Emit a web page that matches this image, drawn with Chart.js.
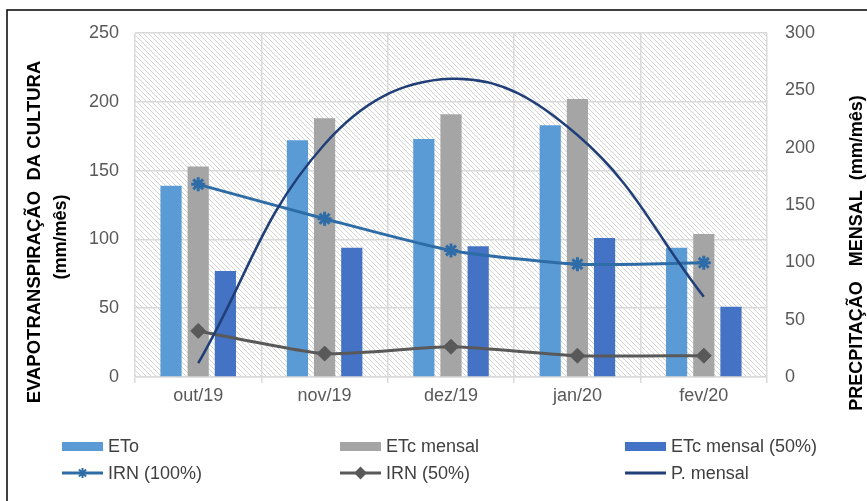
<!DOCTYPE html>
<html>
<head>
<meta charset="utf-8">
<script src="https://cdn.jsdelivr.net/npm/chart.js@4.4.0/dist/chart.umd.min.js"></script>
<style>
  html, body { margin: 0; padding: 0; background: #fff; }
  #wrap { position: relative; width: 867px; height: 501px; }
</style>
</head>
<body>
<div id="wrap"><canvas id="myChart" width="867" height="501"></canvas></div>
<script>
// chart data
const months = ["out/19", "nov/19", "dez/19", "jan/20", "fev/20"];
const eto = [139, 172, 173, 183, 94];
const etcMensal = [153, 188, 191, 202, 104];
const etc50 = [77, 94, 95, 101, 51];
const irn100 = [140, 115, 92, 82, 83];
const irn50 = [33.5, 17, 22, 15.5, 15.5];
const precip = [12, 203, 260, 211, 70];
const leftTicks = [0, 50, 100, 150, 200, 250];
const rightTicks = [0, 50, 100, 150, 200, 250, 300];

const FONT = "'Liberation Sans', Arial, sans-serif";
const GRID = "#D9D9D9";
const TICK_COLOR = "#595959";

const colors = {
    eto: "#5B9BD5",
    etc: "#A5A5A5",
    etc50: "#4472C4",
    irn100: "#2E6CA8",
    irn50: "#595959",
    precip: "#203F78"
};

// hatched plot background + outer frame
const backgroundPlugin = {
    id: "hatch",
    beforeDraw(chart) {
        const { ctx, chartArea } = chart;
        const tile = document.createElement("canvas");
        tile.width = 5;
        tile.height = 5;
        const t = tile.getContext("2d");
        t.fillStyle = "#fff";
        t.fillRect(0, 0, 5, 5);
        t.strokeStyle = "#D4D4D4";
        t.lineWidth = 1;
        t.beginPath();
        t.moveTo(-1, -1); t.lineTo(6, 6);
        t.moveTo(-1, 4); t.lineTo(1, 6);
        t.moveTo(4, -1); t.lineTo(6, 1);
        t.stroke();
        ctx.save();
        ctx.fillStyle = "#fff";
        ctx.fillRect(0, 0, chart.width, chart.height);
        ctx.fillStyle = ctx.createPattern(tile, "repeat");
        ctx.fillRect(chartArea.left, chartArea.top, chartArea.right - chartArea.left, chartArea.bottom - chartArea.top);
        ctx.restore();
    },
    afterDraw(chart) {
        const ctx = chart.ctx;
        ctx.save();
        ctx.strokeStyle = "#000";
        ctx.lineWidth = 1.5;
        ctx.strokeRect(7, 10, 900, 600);
        ctx.restore();
    }
};

// axis titles
const titlesPlugin = {
    id: "axisTitles",
    afterDraw(chart) {
        const ctx = chart.ctx;
        ctx.save();
        ctx.fillStyle = "#000";
        ctx.textAlign = "center";
        ctx.textBaseline = "middle";

        ctx.font = "bold 18.5px " + FONT;
        ctx.save();
        ctx.translate(35, 232);
        ctx.rotate(-Math.PI / 2);
        ctx.fillText("EVAPOTRANSPIRAÇÃO  DA CULTURA", 0, 0);
        ctx.restore();

        ctx.font = "bold 18px " + FONT;
        ctx.save();
        ctx.translate(61, 237);
        ctx.rotate(-Math.PI / 2);
        ctx.fillText("(mm/mês)", 0, 0);
        ctx.restore();

        ctx.save();
        ctx.translate(857, 253);
        ctx.rotate(-Math.PI / 2);
        ctx.fillText("PRECPITAÇÃO   MENSAL  (mm/mês)", 0, 0);
        ctx.restore();

        ctx.restore();
    }
};

// legend in three columns
const legendItems = [
    { label: "ETo", kind: "box", color: colors.eto },
    { label: "ETc mensal", kind: "box", color: colors.etc },
    { label: "ETc mensal (50%)", kind: "box", color: colors.etc50 },
    { label: "IRN (100%)", kind: "line", color: colors.irn100, marker: "star" },
    { label: "IRN (50%)", kind: "line", color: colors.irn50, marker: "rectRot" },
    { label: "P. mensal", kind: "line", color: colors.precip }
];

const legendPlugin = {
    id: "gridLegend",
    afterDraw(chart) {
        const ctx = chart.ctx;
        const colX = [62, 340, 625];
        const rowY = [446, 473];
        ctx.save();
        ctx.font = "18px " + FONT;
        ctx.textBaseline = "middle";
        ctx.textAlign = "left";
        legendItems.forEach((item, i) => {
            const x = colX[i % 3];
            const y = rowY[Math.floor(i / 3)];
            if (item.kind === "box") {
                ctx.fillStyle = item.color;
                ctx.fillRect(x, y - 4, 41, 9);
            } else {
                ctx.strokeStyle = item.color;
                ctx.lineWidth = 3;
                ctx.beginPath();
                ctx.moveTo(x, y);
                ctx.lineTo(x + 41, y);
                ctx.stroke();
                if (item.marker) {
                    ctx.fillStyle = item.color;
                    ctx.strokeStyle = item.color;
                    ctx.lineWidth = 2;
                    Chart.helpers.drawPoint(ctx, { pointStyle: item.marker, radius: 5, borderWidth: 2 }, x + 20.5, y);
                }
            }
            ctx.fillStyle = "#404040";
            ctx.fillText(item.label, x + 46, y + 1);
        });
        ctx.restore();
    }
};

let ctx = document.getElementById("myChart").getContext("2d");

let myChart = new Chart(ctx, {
    type: "bar",
    data: {
        labels: months,
        datasets: [
            {
                type: "line",
                label: "P. mensal",
                data: precip,
                yAxisID: "y1",
                borderColor: colors.precip,
                borderWidth: 2.5,
                pointRadius: 0,
                tension: 0.4,
                order: 0
            },
            {
                type: "line",
                label: "IRN (100%)",
                data: irn100,
                yAxisID: "y",
                borderColor: colors.irn100,
                backgroundColor: colors.irn100,
                borderWidth: 3,
                pointStyle: "star",
                pointRadius: 7,
                pointBorderWidth: 3,
                tension: 0.2,
                order: 1
            },
            {
                type: "line",
                label: "IRN (50%)",
                data: irn50,
                yAxisID: "y",
                borderColor: colors.irn50,
                backgroundColor: colors.irn50,
                borderWidth: 3,
                pointStyle: "rectRot",
                pointRadius: 7.5,
                pointBorderWidth: 1,
                tension: 0.2,
                order: 1
            },
            {
                label: "ETo",
                data: eto,
                yAxisID: "y",
                backgroundColor: colors.eto,
                order: 2
            },
            {
                label: "ETc mensal",
                data: etcMensal,
                yAxisID: "y",
                backgroundColor: colors.etc,
                order: 2
            },
            {
                label: "ETc mensal (50%)",
                data: etc50,
                yAxisID: "y",
                backgroundColor: colors.etc50,
                order: 2
            }
        ]
    },
    options: {
        responsive: false,
        animation: false,
        devicePixelRatio: 1,
        categoryPercentage: 0.645,
        barPercentage: 0.78,
        layout: {
            padding: { top: 33, bottom: 84, left: 0, right: 0 }
        },
        plugins: {
            legend: { display: false },
            tooltip: { enabled: false }
        },
        scales: {
            x: {
                grid: {
                    offset: true,
                    color: GRID,
                    tickLength: 6,
                    lineWidth: 1.5
                },
                border: { color: GRID, width: 1.5 },
                ticks: {
                    color: TICK_COLOR,
                    font: { family: FONT, size: 18 },
                    padding: 2,
                    maxRotation: 0,
                    minRotation: 0
                },
                afterFit(scale) { scale.height = 40; }
            },
            y: {
                position: "left",
                min: 0,
                max: 250,
                afterBuildTicks(scale) { scale.ticks = leftTicks.map(v => ({ value: v })); },
                grid: { color: GRID, drawTicks: false, lineWidth: 1.5 },
                border: { display: false },
                ticks: {
                    color: TICK_COLOR,
                    font: { family: FONT, size: 18 },
                    padding: 16
                },
                afterFit(scale) { scale.width = 135; }
            },
            y1: {
                position: "right",
                min: 0,
                max: 300,
                afterBuildTicks(scale) { scale.ticks = rightTicks.map(v => ({ value: v })); },
                grid: { drawOnChartArea: false, drawTicks: false },
                border: { display: false },
                ticks: {
                    color: TICK_COLOR,
                    font: { family: FONT, size: 18 },
                    padding: 18
                },
                afterFit(scale) { scale.width = 100; }
            }
        }
    },
    plugins: [backgroundPlugin, titlesPlugin, legendPlugin]
});
</script>
</body>
</html>
